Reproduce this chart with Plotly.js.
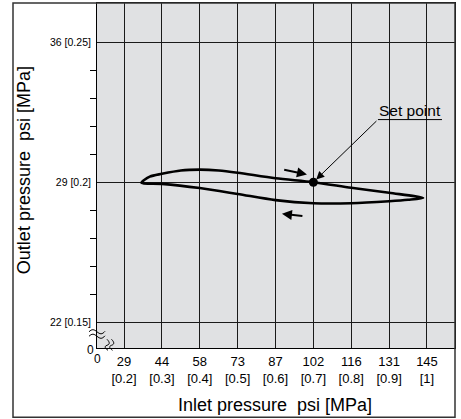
<!DOCTYPE html>
<html>
<head>
<meta charset="utf-8">
<script src="https://cdn.plot.ly/plotly-3.0.1.min.js"></script>
<style>html,body{margin:0;padding:0;background:#fff;}#chart{width:461px;height:419px;}</style>
</head>
<body>
<div id="chart"></div>
<script>
// Data (MPa)
const upperX = [0.246, 0.268, 0.30, 0.35, 0.40, 0.45, 0.50, 0.60, 0.70, 0.80, 0.90, 0.99];
const upperY = [0.1998, 0.2020, 0.2030, 0.2042, 0.2045, 0.2042, 0.2034, 0.2014, 0.2000, 0.1980, 0.1962, 0.1944];
const lowerX = [0.99, 0.95, 0.90, 0.80, 0.70, 0.60, 0.50, 0.40, 0.30, 0.246];
const lowerY = [0.1944, 0.1937, 0.1932, 0.1925, 0.1925, 0.1936, 0.1958, 0.1979, 0.1994, 0.1998];
const setPointX = [0.7];
const setPointY = [0.2];
const xTickVals = [0.2, 0.3, 0.4, 0.5, 0.6, 0.7, 0.8, 0.9, 1.0];
const xTickPsi = ['29', '44', '58', '73', '87', '102', '116', '131', '145'];
const xTickMPa = ['[0.2]', '[0.3]', '[0.4]', '[0.5]', '[0.6]', '[0.7]', '[0.8]', '[0.9]', '[1]'];
const yTickVals = [0.15, 0.2, 0.25];
const yTickText = ['22 [0.15]', '29 [0.2]', '36 [0.25]'];
const yMinorVals = [0.16, 0.17, 0.18, 0.19, 0.21, 0.22, 0.23, 0.24];
// direction arrows [tailX, tailY, headX, headY]
const arrowUp = [0.619, 0.20455, 0.683, 0.20276];
const arrowDown = [0.675, 0.18783, 0.617, 0.18869];
const leader = [0.8705, 0.2224];

const FONT = 'Liberation Sans, Arial, sans-serif';
// pixel -> paper helpers (plot area: x 97..455, y 3..347.7)
const PL = 97, PR = 455, PT = 3, PB = 347.7;
const px = x => (x - PL) / (PR - PL);
const py = y => (PB - y) / (PB - PT);
function path(pts) {
  return pts.map(p => (typeof p === 'string') ? p : px(p[0]).toFixed(5) + ',' + py(p[1]).toFixed(5)).join(' ');
}

const loopX = upperX.concat(lowerX.slice(1));
const loopY = upperY.concat(lowerY.slice(1));

const traces = [
  {x: loopX, y: loopY, type: 'scatter', mode: 'lines',
   line: {color: '#000', width: 2.6, shape: 'spline', smoothing: 0.8},
   hoverinfo: 'skip', showlegend: false},
  {x: setPointX, y: setPointY, type: 'scatter', mode: 'markers',
   marker: {color: '#000', size: 9}, showlegend: false, hoverinfo: 'skip'},
  {x: [0.5], y: [0.2], yaxis: 'y2', type: 'scatter', mode: 'markers',
   marker: {opacity: 0}, showlegend: false, hoverinfo: 'skip'}
];

const C = {xanchor: 'center', yanchor: 'middle', showarrow: false};
const annotations = [
  {x: setPointX[0], y: setPointY[0], xref: 'x', yref: 'y', axref: 'x', ayref: 'y',
   ax: leader[0], ay: leader[1], text: '', showarrow: true, arrowhead: 2, arrowsize: 1.6,
   arrowwidth: 1, arrowcolor: '#000', standoff: 4},
  {x: arrowUp[2], y: arrowUp[3], xref: 'x', yref: 'y', axref: 'x', ayref: 'y',
   ax: arrowUp[0], ay: arrowUp[1], text: '', showarrow: true, arrowhead: 2, arrowsize: 1,
   arrowwidth: 2, arrowcolor: '#000'},
  {x: arrowDown[2], y: arrowDown[3], xref: 'x', yref: 'y', axref: 'x', ayref: 'y',
   ax: arrowDown[0], ay: arrowDown[1], text: '', showarrow: true, arrowhead: 2, arrowsize: 1,
   arrowwidth: 2, arrowcolor: '#000'},
  Object.assign({x: 0.955, y: 0.2257, xref: 'x', yref: 'y', text: 'Set point',
   font: {family: FONT, size: 15.5, color: '#000'}}, C),
  Object.assign({x: px(274.5), y: py(405), xref: 'paper', yref: 'paper', text: 'Inlet pressure  psi [MPa]',
   font: {family: FONT, size: 18, color: '#000'}}, C),
  Object.assign({x: px(23.5), y: py(170.5), xref: 'paper', yref: 'paper', text: 'Outlet pressure  psi [MPa]',
   textangle: -90, font: {family: FONT, size: 18, color: '#000'}}, C),
  Object.assign({x: px(90), y: py(349.5), xref: 'paper', yref: 'paper', text: '0',
   font: {family: FONT, size: 12, color: '#000'}}, C),
  Object.assign({x: px(97.5), y: py(358.5), xref: 'paper', yref: 'paper', text: '0',
   font: {family: FONT, size: 12, color: '#000'}}, C)
];

const shapes = [
  {type: 'rect', xref: 'paper', yref: 'paper', x0: px(13), x1: px(455), y0: py(417), y1: py(3),
   line: {color: '#333', width: 1.5}, layer: 'above'},
  {type: 'line', xref: 'x', yref: 'y', x0: leader[0], x1: 1.0396, y0: leader[1], y1: leader[1],
   line: {color: '#000', width: 1}},
  // y-axis break
  {type: 'path', xref: 'paper', yref: 'paper', line: {color: '#000', width: 1},
   path: 'M' + path([[89, 331.5], 'C', [92, 328.5], [94, 329], [97, 331.5], 'S', [102, 334.5], [105, 331]])},
  {type: 'path', xref: 'paper', yref: 'paper', line: {color: '#000', width: 1},
   path: 'M' + path([[89, 336], 'C', [92, 333], [94, 333.5], [97, 336], 'S', [102, 339], [105, 335.5]])},
  // x-axis break
  {type: 'path', xref: 'paper', yref: 'paper', line: {color: '#000', width: 1},
   path: 'M' + path([[107, 339], 'C', [110, 342], [110, 344], [107, 345], 'S', [105, 348], [108, 350]])},
  {type: 'path', xref: 'paper', yref: 'paper', line: {color: '#000', width: 1},
   path: 'M' + path([[111.5, 339], 'C', [114.5, 342], [114.5, 344], [111.5, 345], 'S', [109.5, 348], [112.5, 350]])}
];

const yRange = [0.1407, 0.2641];
const layout = {
  width: 461, height: 419,
  margin: {l: PL, r: 461 - PR, t: PT, b: 419 - PB},
  paper_bgcolor: '#fff', plot_bgcolor: '#e0e1e3',
  font: {family: FONT, color: '#000'},
  showlegend: false,
  xaxis: {
    range: [0.1286, 1.074], tickmode: 'array', tickvals: xTickVals,
    ticktext: xTickPsi.map((p, i) => p + '<br>' + xTickMPa[i]),
    tickfont: {family: FONT, size: 13, color: '#000'},
    ticks: '', ticklen: 0, showgrid: true, gridcolor: '#1a1a1a', gridwidth: 1,
    showline: true, linecolor: '#000', linewidth: 1, mirror: true, zeroline: false,
    ticklabelstandoff: 1
  },
  yaxis: {
    range: yRange, tickmode: 'array', tickvals: yTickVals, ticktext: yTickText,
    tickfont: {family: FONT, size: 10.5, color: '#000'},
    ticks: 'outside', ticklen: 3, tickcolor: 'rgba(0,0,0,0)',
    showgrid: true, gridcolor: '#1a1a1a', gridwidth: 1,
    showline: true, linecolor: '#000', linewidth: 1, mirror: true, zeroline: false
  },
  yaxis2: {
    range: yRange, overlaying: 'y', side: 'left', tickmode: 'array', tickvals: yMinorVals,
    showticklabels: false, ticks: 'outside', ticklen: 6, tickcolor: '#000', tickwidth: 1,
    showgrid: false, zeroline: false, showline: false
  },
  annotations: annotations,
  shapes: shapes
};

Plotly.newPlot('chart', traces, layout, {staticPlot: true, displayModeBar: false});
</script>
</body>
</html>
